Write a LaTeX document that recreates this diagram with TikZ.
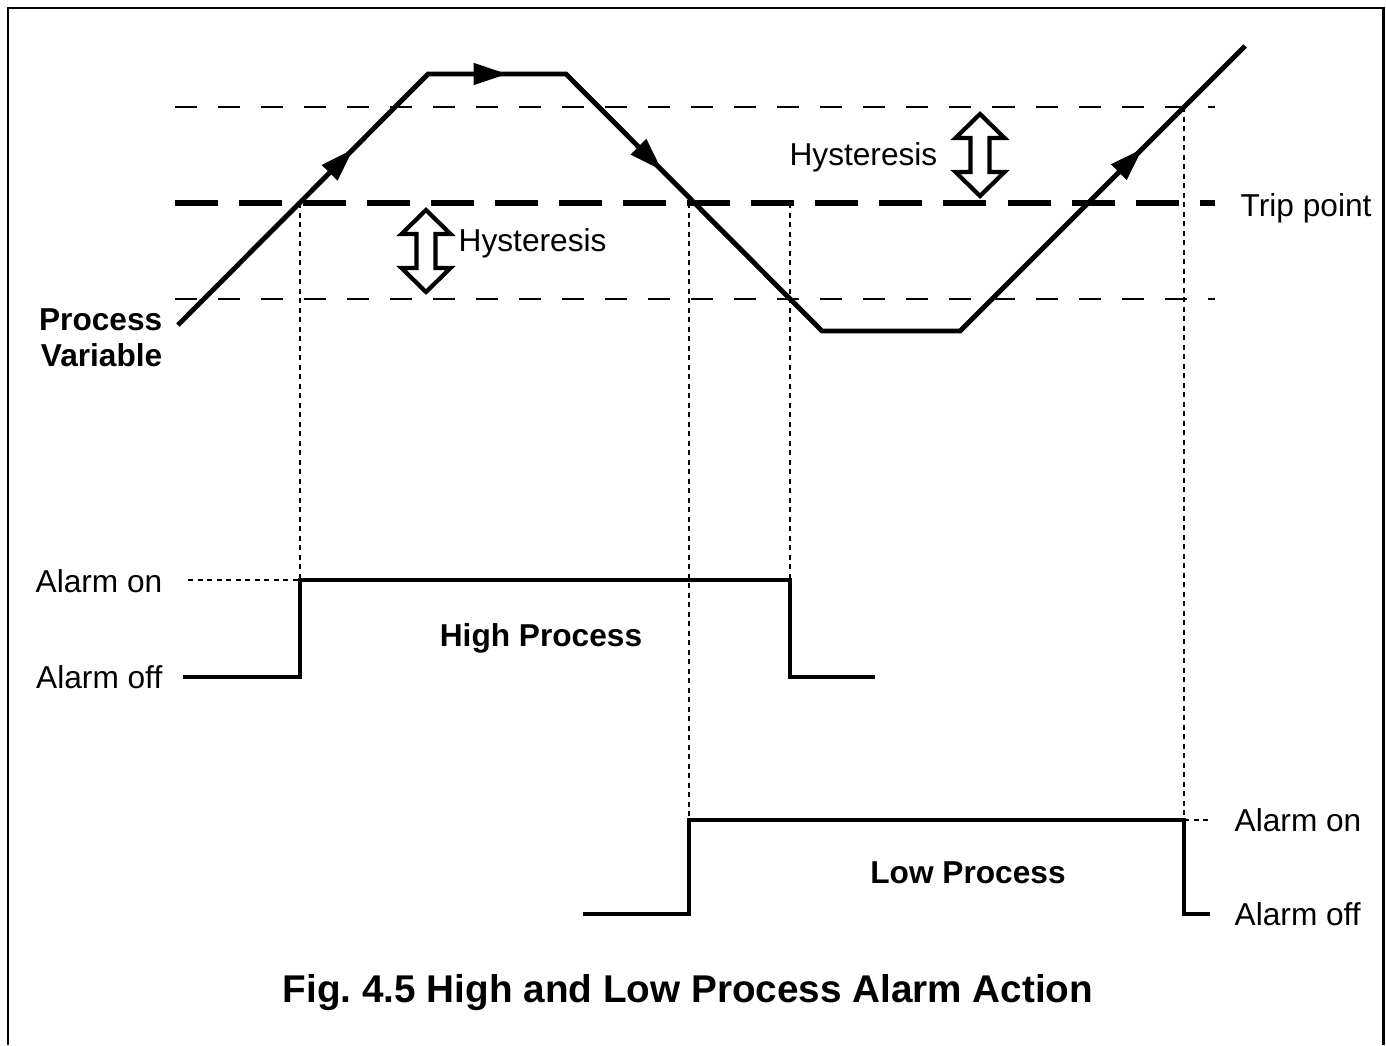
\documentclass[tikz,border=0pt]{standalone}
\usepackage{fontspec}
\setmainfont{Liberation Sans}
\frenchspacing
\usetikzlibrary{arrows.meta,positioning,decorations.markings}
\tikzset{
  pv/.style={line width=1.4pt, line join=miter},
  alarm/.style={line width=1.4pt},
  band/.style={line width=0.7pt, dash pattern=on 2.2mm off 2.1mm},
  trip/.style={line width=1.7pt, dash pattern=on 4.3mm off 2.1mm},
  guide/.style={line width=0.6pt, dash pattern=on 0.5mm off 0.45mm},
  lbl/.style={font=\fontsize{9}{10.3}\selectfont, inner sep=0pt},
  blbl/.style={lbl, font=\fontsize{9}{10.3}\selectfont\bfseries},
  midtip/.style={postaction={decorate}, decoration={markings,
      mark=at position #1 with {\arrow{Triangle[length=3.3mm,width=2.2mm]}}}},
  hyst/.style={line width=1.2pt, fill=white, line join=miter},
}
\newcommand{\hystarrow}[1]{%
  \draw[hyst] (#1) ++(0,-41) -- ++(24.5,24) -- ++(-15,0) -- ++(0,34) -- ++(15,0)
    -- ++(-24.5,24) -- ++(-24.5,-24) -- ++(15,0) -- ++(0,-34) -- ++(-15,0) -- cycle;}

\begin{document}
\begin{tikzpicture}[x=0.01cm, y=-0.01cm]
  \useasboundingbox (0,0) rectangle (1386,1045);
  % frame, open at the bottom
  \draw[line width=0.85pt] (8,1045) |- (1383,8) -- (1383,1045);

  % hysteresis band around the trip point
  \coordinate (upL) at (175,107);  \coordinate (upR) at (1215,107);
  \coordinate (tpL) at (175,203);  \coordinate (tpR) at (1215,203);
  \coordinate (loL) at (175,299);  \coordinate (loR) at (1215,299);
  \draw[band] (upL) -- (upR);
  \draw[trip] (tpL) -- (tpR);
  \draw[band] (loL) -- (loR);
  \node[lbl, anchor=west] (tripl) at (1240,208) {Trip point};

  \coordinate (ha) at (426,251);
  \coordinate (hb) at (980,155);
  \hystarrow{ha}
  \hystarrow{hb}
  \node[lbl, anchor=west] (hysl) at (458,243) {Hysteresis};
  \node[lbl, anchor=east] (hysr) at (938,157) {Hysteresis};

  % process variable
  \coordinate (p0) at (178,325);
  \coordinate (p1) at (428,74);
  \coordinate (p2) at (566,74);
  \coordinate (p3) at (822,331);
  \coordinate (p4) at (960,331);
  \coordinate (p5) at (1245,46);
  \draw[pv] (p0) -- (p1) -- (p2) -- (p3) -- (p4) -- (p5);
  \path[midtip=0.7] (p0) -- (p1);
  \path[midtip=0.57] (p1) -- (p2);
  \path[midtip=0.375] (p2) -- (p3);
  \path[midtip=0.64] (p4) -- (p5);
  \node[blbl, align=right, anchor=east] (pvl) at (163,338) {Process\\Variable};

  % where the curve meets the switching levels
  \coordinate (xr) at (300,203);
  \coordinate (xf) at (689,203);
  \coordinate (xl) at (790,203);
  \coordinate (xu) at (1184,107);

  % high process alarm
  \node[lbl, anchor=east] (onH) at (163,581) {Alarm on};
  \node[lbl, anchor=east] (offH) at (163,677) {Alarm off};
  \coordinate (hOn) at (300,580);
  \coordinate (hOff) at (790,580);
  \coordinate (hDown) at (790,677);
  \coordinate (hEnd) at (875,677);
  \draw[alarm] ([xshift=0.2cm]offH.east) -| (hOn) -| (hDown) -- (hEnd);
  \draw[guide] ([xshift=0.25cm]onH.east |- hOn) -- (hOn);
  \draw[guide] (xr) -- (hOn);
  \draw[guide] (xl) -- (hOff);
  \node[blbl] (hp) at (541,638) {High Process};

  % low process alarm
  \node[lbl, anchor=west] (onL) at (1234,820) {Alarm on};
  \node[lbl, anchor=west] (offL) at (1234,914) {Alarm off};
  \coordinate (lStart) at (583,914);
  \coordinate (lOn) at (689,820);
  \coordinate (lOff) at (1184,820);
  \coordinate (lDown) at (1184,914);
  \coordinate (lEnd) at (1210,914);
  \draw[alarm] (lStart) -| (lOn) -| (lDown) -- (lEnd);
  \draw[guide] (xf) -- (lOn);
  \draw[guide] (xu) -- (lOff);
  \draw[guide] (lOff) -- ([xshift=-0.22cm]onL.west |- lOff);
  \node[blbl] (lp) at (968,873) {Low Process};

  \node[font=\fontsize{11}{13}\selectfont\bfseries] (title) at (688,993)
    {Fig. 4.5 High and Low Process Alarm Action};
\end{tikzpicture}
\end{document}
